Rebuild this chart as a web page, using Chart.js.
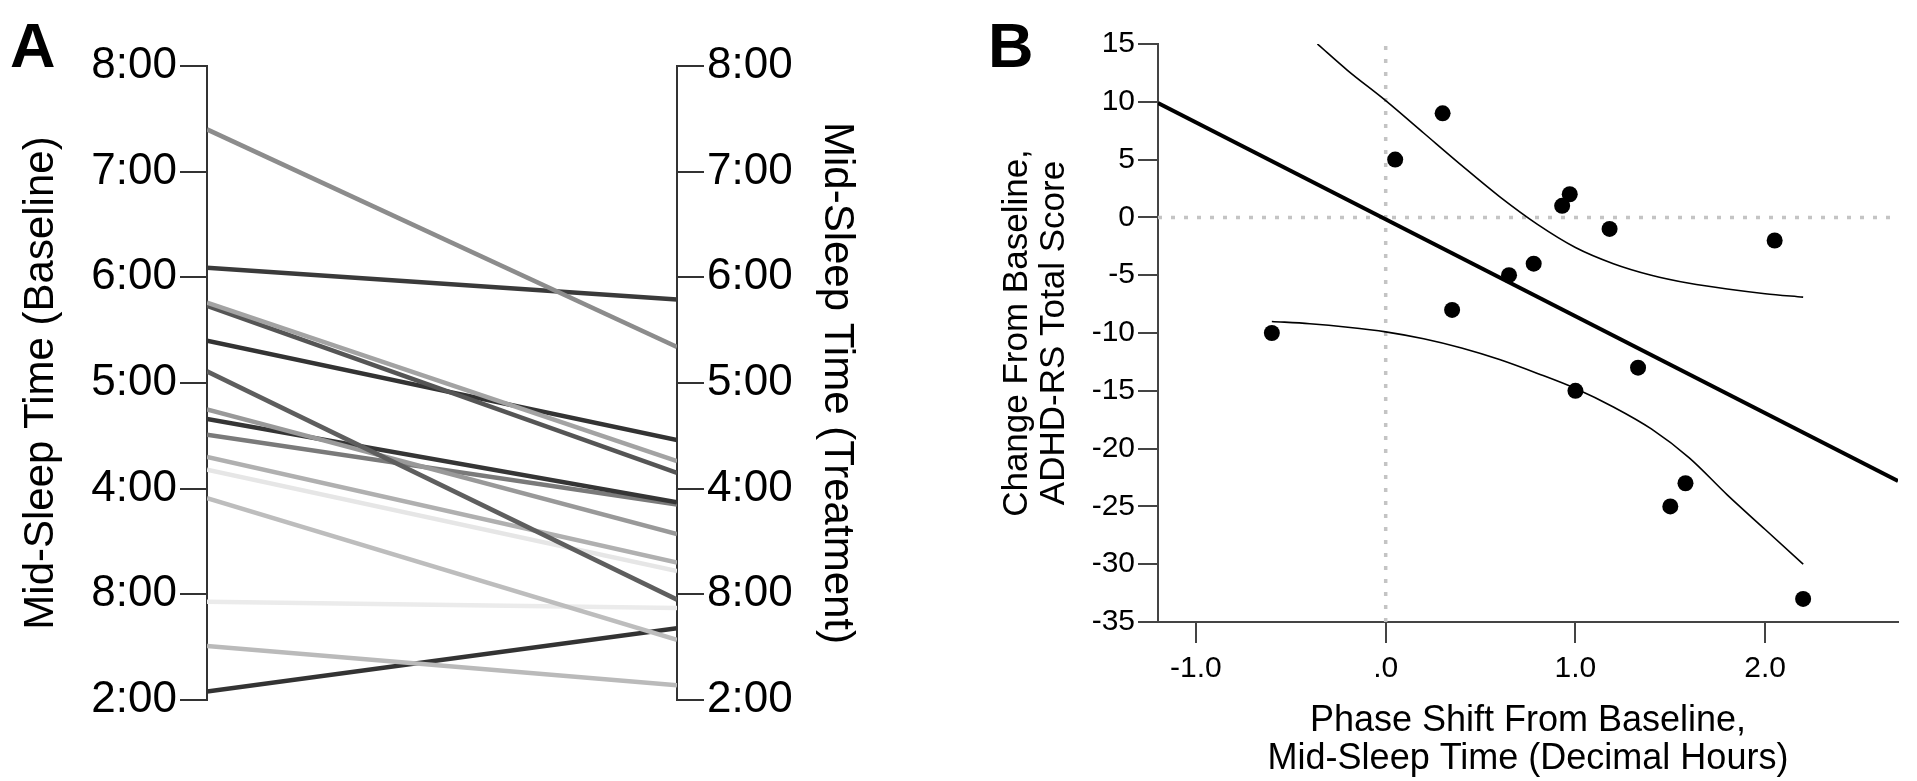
<!DOCTYPE html>
<html>
<head>
<meta charset="utf-8">
<script src="https://cdn.jsdelivr.net/npm/chart.js@4.4.1/dist/chart.umd.min.js"></script>
<style>
  html, body { margin: 0; padding: 0; background: #fff; }
  #wrap { position: relative; width: 1917px; height: 781px; overflow: hidden; background: #fff; }
  canvas { position: absolute; top: 0; }
  .panel-letter { position: absolute; font-family: "Liberation Sans", Arial, sans-serif; font-weight: bold; font-size: 63px; line-height: 1; color: #000; }
</style>
</head>
<body>
<div id="wrap">
  <canvas id="chartA" width="960" height="781" style="left:0px"></canvas>
  <canvas id="chartB" width="957" height="781" style="left:960px"></canvas>
  <div class="panel-letter" style="left:10px; top:14px;">A</div>
  <div class="panel-letter" style="left:988px; top:14px;">B</div>
</div>
<script>
// ---------- Panel A data (mid-sleep time, hours after midnight) ----------
const baselineHours  = [7.40, 6.09, 5.76, 5.73, 5.40, 5.11, 4.75, 4.66, 4.51, 4.30, 4.18, 3.91, 2.93, 2.51, 2.08];
const treatmentHours = [5.34, 5.79, 4.26, 4.15, 4.46, 2.95, 3.57, 3.87, 3.85, 3.30, 3.22, 2.57, 2.87, 2.14, 2.68];
const participantGrays = ['#8c8c8c', '#3a3a3a', '#a3a3a3', '#555555', '#333333', '#5e5e5e', '#999999', '#353535',
                          '#7a7a7a', '#b0b0b0', '#e6e6e6', '#bdbdbd', '#ebebeb', '#bababa', '#333333'];
const timeTickValues = [2, 3, 4, 5, 6, 7, 8];
const timeTickLabels = ['2:00', '8:00', '4:00', '5:00', '6:00', '7:00', '8:00'];

// ---------- Panel B data ----------
const phaseShift  = [-0.60, 0.05, 0.30, 0.35, 0.65, 0.78, 0.93, 0.97, 1.00, 1.18, 1.33, 1.50, 1.58, 2.05, 2.20];
const scoreChange = [-10, 5, 9, -8, -5, -4, 1, 2, -15, -1, -13, -25, -23, -2, -33];
const fitX = [-1.2, 2.7];
const fitY = [9.9, -22.8];
const upperCIX = [-0.36, -0.2, 0.0, 0.2, 0.4, 0.6, 0.8, 1.0, 1.2, 1.4, 1.6, 1.8, 2.0, 2.2];
const upperCIY = [15.0, 12.7, 10.1, 7.3, 4.5, 1.8, -0.6, -2.6, -4.0, -5.0, -5.7, -6.2, -6.6, -6.9];
const lowerCIX = [-0.6, -0.4, -0.2, 0.0, 0.2, 0.4, 0.6, 0.8, 1.0, 1.2, 1.4, 1.6, 1.8, 2.0, 2.2];
const lowerCIY = [-9.0, -9.2, -9.5, -9.9, -10.5, -11.3, -12.3, -13.5, -14.8, -16.4, -18.3, -20.8, -24.0, -27.0, -30.0];
const xTickValues = [-1, 0, 1, 2];
const xTickLabels = ['-1.0', '.0', '1.0', '2.0'];
const yTickValuesB = [15, 10, 5, 0, -5, -10, -15, -20, -25, -30, -35];

const FONT = '"Liberation Sans", Arial, Helvetica, sans-serif';
const zip = (xs, ys) => xs.map((x, i) => ({ x: x, y: ys[i] }));

// ---------- Panel A ----------
const datasetsA = baselineHours.map((b, i) => ({
  data: [{ x: 0, y: b }, { x: 1, y: treatmentHours[i] }],
  showLine: true,
  borderColor: participantGrays[i],
  borderWidth: 4.5,
  pointRadius: 0,
  pointHoverRadius: 0,
  fill: false
}));

function timeAxis(position, width, titleText, titlePadTop) {
  return {
    type: 'linear',
    position: position,
    min: 2, max: 8,
    afterBuildTicks: (s) => { s.ticks = timeTickValues.map(v => ({ value: v })); },
    afterFit: (s) => { s.width = width; },
    ticks: {
      color: '#000',
      font: { family: FONT, size: 44 },
      padding: 3,
      callback: (v) => timeTickLabels[timeTickValues.indexOf(v)]
    },
    grid: { drawOnChartArea: false, drawTicks: true, tickLength: 27, color: '#333', lineWidth: 2 },
    border: { display: true, color: '#333', width: 2 },
    title: {
      display: true,
      text: titleText,
      color: '#000',
      font: { family: FONT, size: 42, lineHeight: 1.2 },
      padding: { top: titlePadTop, bottom: 0 }
    }
  };
}

new Chart(document.getElementById('chartA'), {
  type: 'scatter',
  data: { datasets: datasetsA },
  options: {
    responsive: false,
    animation: false,
    devicePixelRatio: 1,
    layout: { padding: { top: 66, bottom: 81, left: 0, right: 0 } },
    plugins: { legend: { display: false }, tooltip: { enabled: false } },
    scales: {
      x: { type: 'linear', min: 0, max: 1, display: false },
      y: timeAxis('left', 207, 'Mid-Sleep Time (Baseline)', 16),
      y2: timeAxis('right', 283, 'Mid-Sleep Time (Treatment)', 98)
    }
  }
});

// ---------- Panel B ----------
new Chart(document.getElementById('chartB'), {
  type: 'scatter',
  data: {
    datasets: [
      { // participants
        data: zip(phaseShift, scoreChange),
        backgroundColor: '#000', borderColor: '#000', borderWidth: 0,
        pointRadius: 8, pointHoverRadius: 8, showLine: false
      },
      { // fitted regression line
        data: zip(fitX, fitY),
        showLine: true, borderColor: '#000', borderWidth: 4, pointRadius: 0
      },
      { // upper 95% CI
        data: zip(upperCIX, upperCIY),
        showLine: true, borderColor: '#000', borderWidth: 1.6, pointRadius: 0,
        cubicInterpolationMode: 'monotone'
      },
      { // lower 95% CI
        data: zip(lowerCIX, lowerCIY),
        showLine: true, borderColor: '#000', borderWidth: 1.6, pointRadius: 0,
        cubicInterpolationMode: 'monotone'
      },
      { // vertical reference at x = 0
        data: [{ x: 0, y: -35 }, { x: 0, y: 15 }],
        showLine: true, borderColor: '#c4c4c4', borderWidth: 3.5, borderDash: [4, 9], pointRadius: 0
      },
      { // horizontal reference at y = 0
        data: [{ x: -1.2, y: 0 }, { x: 2.7, y: 0 }],
        showLine: true, borderColor: '#c4c4c4', borderWidth: 3.5, borderDash: [4, 9], pointRadius: 0
      }
    ]
  },
  options: {
    responsive: false,
    animation: false,
    devicePixelRatio: 1,
    layout: { padding: { top: 44, bottom: 0, left: 0, right: 19 } },
    plugins: { legend: { display: false }, tooltip: { enabled: false } },
    scales: {
      x: {
        type: 'linear', min: -1.2, max: 2.7,
        afterBuildTicks: (s) => { s.ticks = xTickValues.map(v => ({ value: v })); },
        afterFit: (s) => { s.height = 159; },
        ticks: {
          color: '#000', font: { family: FONT, size: 30 }, padding: 8,
          callback: (v) => xTickLabels[xTickValues.indexOf(v)]
        },
        grid: { drawOnChartArea: false, drawTicks: true, tickLength: 21, color: '#444', lineWidth: 2 },
        border: { display: true, color: '#444', width: 2 },
        title: {
          display: true,
          text: ['Phase Shift From Baseline,', 'Mid-Sleep Time (Decimal Hours)'],
          color: '#000', font: { family: FONT, size: 36, lineHeight: 1.06 },
          padding: { top: 0, bottom: 3 }
        }
      },
      y: {
        type: 'linear', min: -35, max: 15,
        afterBuildTicks: (s) => { s.ticks = yTickValuesB.map(v => ({ value: v })); },
        afterFit: (s) => { s.width = 198; },
        ticks: {
          color: '#000', font: { family: FONT, size: 30 }, padding: 3,
          callback: (v) => String(v)
        },
        grid: { drawOnChartArea: false, drawTicks: true, tickLength: 20, color: '#444', lineWidth: 2 },
        border: { display: true, color: '#444', width: 2 },
        title: {
          display: true,
          text: ['Change From Baseline,', 'ADHD-RS Total Score'],
          color: '#000', font: { family: FONT, size: 35, lineHeight: 1.06 },
          padding: { top: 39, bottom: 0 }
        }
      }
    }
  }
});
</script>
</body>
</html>
